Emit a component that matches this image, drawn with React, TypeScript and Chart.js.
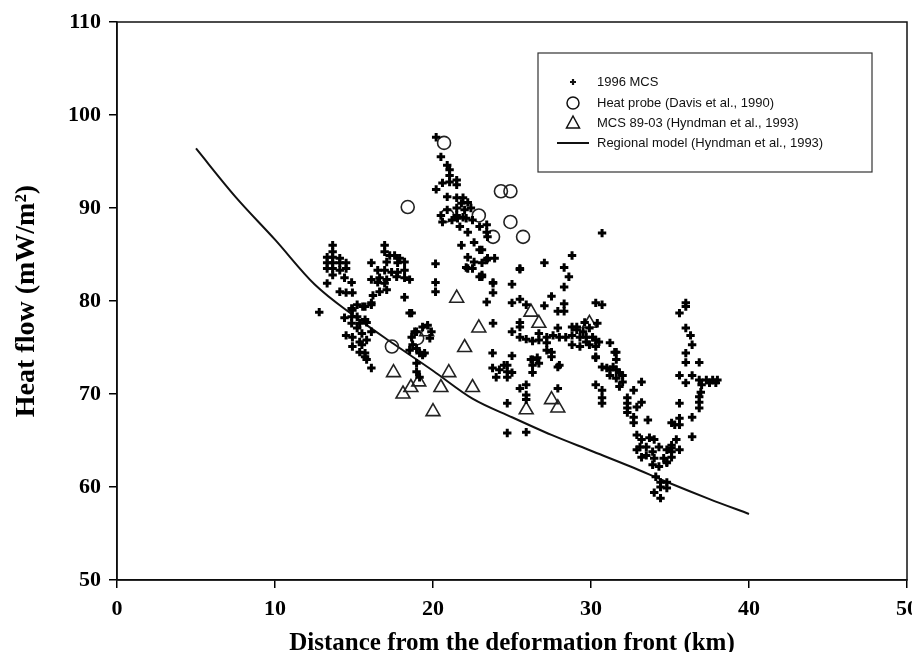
import React, { useEffect, useRef } from "react";
import { Chart, registerables } from "chart.js";

Chart.register(...registerables);

// Axis ranges and tick labels
const xTicks = [0, 10, 20, 30, 40, 50];
const yTicks = [50, 60, 70, 80, 90, 100, 110];

// 1996 MCS heat-flow estimates [distance km, heat flow mW/m2]
const mcs1996: [number, number][] = [
  [12.8, 78.8],
  [13.65, 86.0], [13.65, 85.3], [13.3, 84.7], [13.65, 84.7], [14.1, 84.6], [13.3, 84.1], [13.65, 84.1],
  [14.1, 84.1], [14.5, 84.1], [13.3, 83.5], [13.65, 83.5], [14.1, 83.3], [14.5, 83.5], [13.65, 82.8],
  [14.4, 82.5], [14.85, 82.0], [13.3, 81.9], [14.1, 81.0], [14.5, 80.9], [14.9, 80.9],
  [14.85, 79.2], [15.2, 79.6], [15.7, 79.4], [16.1, 79.6], [14.9, 79.0], [14.4, 78.2], [14.85, 78.3],
  [15.2, 78.3], [15.7, 78.0], [14.85, 77.6], [15.36, 77.6], [15.8, 77.7], [15.2, 77.1], [16.1, 76.7],
  [14.5, 76.3], [14.9, 76.1], [15.5, 76.5], [15.36, 75.6], [15.8, 75.8], [14.9, 75.1], [15.5, 75.3],
  [15.36, 74.5], [15.7, 74.0], [15.8, 73.7], [16.1, 72.8], [15.7, 74.4],
  [16.94, 86.0], [16.94, 85.3], [17.26, 84.9], [17.57, 84.9], [17.89, 84.6], [17.07, 84.2], [17.76, 84.1],
  [18.2, 84.2], [16.1, 84.1], [16.5, 83.3], [16.94, 83.3], [17.38, 83.1], [17.76, 83.1], [18.2, 83.3],
  [16.62, 82.5], [17.07, 82.3], [16.1, 82.3], [16.5, 82.0], [16.94, 81.9], [17.7, 82.6], [18.2, 82.5],
  [18.52, 82.3], [16.62, 81.0], [17.07, 81.2], [16.2, 80.6], [18.2, 80.4], [18.52, 78.7], [16.1, 79.8],
  [15.55, 79.4],
  [19.34, 77.2], [19.66, 77.4], [18.96, 76.7], [18.65, 76.1], [18.71, 75.3], [18.52, 74.7], [19.47, 74.4],
  [19.15, 74.4], [18.65, 78.7], [18.84, 76.7], [19.9, 76.7], [19.8, 76.0], [18.96, 74.9], [19.34, 74.2],
  [18.96, 73.3], [18.96, 72.4], [19.15, 71.8],
  [20.16, 84.0], [20.16, 82.0], [20.16, 81.0],
  [20.2, 97.6], [20.5, 95.5], [20.9, 94.6], [21.05, 94.1], [21.05, 93.5], [20.6, 92.7], [21.05, 92.8],
  [21.5, 93.0], [20.2, 92.0], [21.5, 92.5], [20.9, 91.2], [21.5, 91.1], [21.9, 91.1], [22.2, 90.6],
  [21.8, 90.5], [20.9, 89.8], [21.5, 90.0], [22.0, 89.8], [22.4, 90.0], [20.5, 89.2], [21.5, 89.2],
  [21.9, 89.0], [20.6, 88.5], [21.2, 88.7], [21.55, 88.9], [22.1, 88.9], [22.5, 88.7], [21.7, 88.0],
  [22.2, 87.4], [22.95, 88.0], [23.4, 88.2], [23.4, 87.4], [23.45, 86.9], [21.8, 86.0], [22.6, 86.3],
  [23.1, 85.5], [23.45, 84.6], [23.9, 84.6], [22.2, 84.7], [22.6, 84.2], [23.1, 84.1], [22.2, 83.5],
  [23.1, 82.8], [25.5, 83.5], [22.95, 85.5], [23.4, 84.4], [22.1, 83.6], [22.5, 83.5], [23.1, 82.6],
  [23.8, 81.9], [23.8, 80.9], [23.4, 79.9], [22.95, 82.6], [23.8, 82.0],
  [30.7, 87.3], [28.8, 84.9], [27.05, 84.1], [28.3, 83.6], [25.5, 83.4], [28.6, 82.6], [25.0, 81.8],
  [28.3, 81.5], [27.5, 80.5], [25.5, 80.2], [25.0, 79.8], [25.9, 79.6], [27.05, 79.5], [28.3, 79.7],
  [27.9, 78.9], [28.3, 78.9], [30.3, 79.8], [30.7, 79.6], [23.8, 77.6], [25.5, 77.7], [25.5, 77.2],
  [25.0, 76.7],
  [25.5, 76.1], [25.9, 75.9], [26.3, 75.7], [26.7, 76.5], [26.7, 75.8], [27.2, 76.1], [27.6, 76.3],
  [28.0, 76.1], [27.9, 77.1], [28.4, 76.1], [28.8, 77.2], [29.1, 76.9], [28.8, 76.3], [29.3, 76.1],
  [29.7, 76.1], [30.1, 76.1], [29.5, 76.7], [30.4, 77.6], [29.9, 77.1], [30.3, 75.8], [28.8, 75.3],
  [29.3, 75.1], [29.7, 75.6], [29.9, 75.3], [30.3, 75.1], [31.2, 75.5], [31.6, 74.5], [31.6, 73.7],
  [31.2, 72.6], [31.6, 72.6], [32.0, 72.0], [27.2, 75.5], [27.2, 74.7], [27.5, 74.5], [27.5, 74.0],
  [26.3, 73.7], [26.3, 73.1], [26.7, 73.3], [26.3, 72.3], [25.0, 74.1], [23.77, 74.4], [24.7, 73.1],
  [24.2, 72.6], [24.7, 72.4], [25.0, 72.3], [23.77, 72.8], [28.0, 73.1], [30.3, 74.0], [29.6, 77.7],
  [29.1, 77.2], [24.0, 71.8],
  [24.7, 69.0], [25.5, 70.6], [25.9, 71.0], [25.9, 69.9], [25.9, 69.4], [24.5, 73.1], [24.7, 71.8],
  [26.2, 73.7], [26.6, 73.9], [27.9, 72.9], [27.9, 70.6], [30.3, 73.9], [30.5, 75.6], [31.5, 74.5],
  [30.7, 72.9], [31.0, 72.8], [31.4, 72.9], [31.8, 72.3], [31.2, 72.0], [31.6, 71.7], [32.0, 71.3],
  [31.8, 70.8], [30.3, 71.0], [30.7, 70.4], [30.7, 69.6], [30.7, 69.0], [32.3, 69.6], [32.3, 69.0],
  [32.3, 68.5], [32.3, 68.0], [32.9, 68.6], [24.7, 65.8], [25.9, 65.9], [33.2, 69.1], [33.2, 71.3],
  [32.7, 70.4], [33.6, 67.2], [32.7, 67.5], [32.7, 66.9],
  [32.9, 65.6], [33.2, 65.1], [33.7, 65.3], [34.0, 65.1], [32.9, 64.0], [33.5, 64.3], [33.9, 63.8],
  [33.2, 63.2], [34.3, 64.3], [35.1, 64.5], [35.4, 65.1], [35.6, 64.0], [35.1, 63.8], [33.1, 64.3],
  [33.5, 63.4], [34.0, 63.1], [33.9, 62.4], [34.3, 62.2], [34.8, 62.6], [34.1, 61.1], [34.4, 60.5],
  [34.8, 60.5], [34.4, 60.0], [34.8, 59.9], [34.0, 59.4], [34.4, 58.8], [35.1, 64.2], [35.1, 63.2],
  [34.8, 64.0], [34.6, 63.1], [34.8, 62.7],
  [35.6, 72.0], [36.3, 76.3], [36.4, 75.3], [36.0, 74.4], [36.0, 73.4], [36.85, 73.4], [36.0, 71.2],
  [36.4, 72.0], [36.85, 71.5], [37.3, 71.5], [37.7, 71.5], [38.0, 71.5], [37.0, 71.0], [36.95, 70.2],
  [36.85, 69.7], [36.85, 69.1], [36.85, 68.5], [36.4, 67.5], [35.6, 69.0], [35.6, 67.4], [35.6, 66.7],
  [35.3, 66.7], [35.1, 66.9], [36.4, 65.4], [36.0, 79.8], [36.0, 79.4], [35.6, 78.7], [36.0, 77.1],
  [37.5, 71.2], [37.9, 71.2],
];

// Heat probe measurements (Davis et al., 1990)
const probeX = [20.7, 18.4, 20.9, 22.9, 23.8, 24.3, 24.9, 24.9, 25.7, 17.4, 19.0];
const probeY = [97.0, 90.1, 89.2, 89.2, 86.9, 91.8, 91.8, 88.5, 86.9, 75.1, 76.0];

// MCS 89-03 estimates (Hyndman et al., 1993)
const mcs89X = [17.5, 18.1, 18.6, 19.1, 19.6, 20.0, 20.5, 21.0, 21.5, 22.0, 22.5, 22.9, 26.2, 26.7, 29.9, 25.9, 27.5, 27.9];
const mcs89Y = [72.3, 70.0, 70.7, 71.3, 76.7, 68.1, 70.7, 72.3, 80.3, 75.0, 70.7, 77.1, 78.8, 77.6, 77.6, 68.3, 69.4, 68.5];

// Regional model curve (Hyndman et al., 1993)
const modelX = [5, 7.5, 10, 12.5, 15, 17.5, 20, 22.5, 25, 27.5, 30, 32.5, 35, 37.5, 40];
const modelY = [96.4, 91.2, 86.6, 81.8, 78.4, 75.4, 72.5, 69.5, 67.5, 65.6, 63.9, 62.2, 60.4, 58.7, 57.1];

const legendLabels = [
  "1996 MCS",
  "Heat probe (Davis et al., 1990)",
  "MCS 89-03 (Hyndman et al., 1993)",
  "Regional model (Hyndman et al., 1993)",
];

const serif = '"Liberation Serif", "Times New Roman", serif';
const sans = '"Liberation Sans", Arial, sans-serif';

// Frame around the plot area plus the boxed legend
const framePlugin = {
  id: "frameAndLegend",
  afterDraw(chart: any) {
    const { ctx, chartArea } = chart;
    ctx.save();
    ctx.strokeStyle = "#111";
    ctx.lineWidth = 1.5;
    ctx.strokeRect(chartArea.left, chartArea.top, chartArea.right - chartArea.left, chartArea.bottom - chartArea.top);

    const bx = chartArea.left + 421;
    const by = chartArea.top + 31;
    const bw = 334;
    const bh = 119;
    ctx.fillStyle = "#fff";
    ctx.fillRect(bx, by, bw, bh);
    ctx.lineWidth = 1.2;
    ctx.strokeStyle = "#333";
    ctx.strokeRect(bx, by, bw, bh);

    const sx = bx + 35;
    const tx = bx + 59;
    const rows = [by + 29, by + 50, by + 70, by + 90];
    ctx.font = `13px ${sans}`;
    ctx.fillStyle = "#111";
    ctx.textBaseline = "middle";
    ctx.textAlign = "left";
    legendLabels.forEach((t, i) => ctx.fillText(t, tx, rows[i]));

    ctx.strokeStyle = "#111";
    // cross
    ctx.lineWidth = 2.2;
    ctx.beginPath();
    ctx.moveTo(sx - 3, rows[0]);
    ctx.lineTo(sx + 3, rows[0]);
    ctx.moveTo(sx, rows[0] - 3);
    ctx.lineTo(sx, rows[0] + 3);
    ctx.stroke();
    // circle
    ctx.lineWidth = 1.5;
    ctx.beginPath();
    ctx.arc(sx, rows[1], 6, 0, Math.PI * 2);
    ctx.stroke();
    // triangle
    ctx.beginPath();
    ctx.moveTo(sx, rows[2] - 7);
    ctx.lineTo(sx + 6.5, rows[2] + 5);
    ctx.lineTo(sx - 6.5, rows[2] + 5);
    ctx.closePath();
    ctx.stroke();
    // line
    ctx.lineWidth = 2;
    ctx.beginPath();
    ctx.moveTo(sx - 16, rows[3]);
    ctx.lineTo(sx + 16, rows[3]);
    ctx.stroke();
    ctx.restore();
  },
};

export default function App() {
  const ref = useRef<HTMLCanvasElement | null>(null);

  useEffect(() => {
    if (!ref.current) return;
    const chart = new Chart(ref.current, {
      type: "scatter",
      data: {
        datasets: [
          {
            label: legendLabels[0],
            data: mcs1996.map(([x, y]) => ({ x, y })),
            pointStyle: "cross",
            pointRadius: 4.2,
            borderWidth: 3,
            borderColor: "#000",
            backgroundColor: "#000",
          },
          {
            label: legendLabels[1],
            data: probeX.map((x, i) => ({ x, y: probeY[i] })),
            pointStyle: "circle",
            pointRadius: 6.5,
            borderWidth: 1.6,
            borderColor: "#222",
            backgroundColor: "rgba(0,0,0,0)",
          },
          {
            label: legendLabels[2],
            data: mcs89X.map((x, i) => ({ x, y: mcs89Y[i] })),
            pointStyle: "triangle",
            pointRadius: 8,
            borderWidth: 1.6,
            borderColor: "#222",
            backgroundColor: "rgba(0,0,0,0)",
          },
          {
            label: legendLabels[3],
            data: modelX.map((x, i) => ({ x, y: modelY[i] })),
            showLine: true,
            pointRadius: 0,
            borderWidth: 2,
            borderColor: "#111",
            cubicInterpolationMode: "monotone",
          },
        ],
      },
      options: {
        animation: false,
        responsive: false,
        maintainAspectRatio: false,
        layout: { padding: { top: 14, right: 13, left: 0, bottom: 0 } },
        plugins: { legend: { display: false }, tooltip: { enabled: false } },
        scales: {
          x: {
            type: "linear",
            min: 0,
            max: 50,
            afterBuildTicks: (s: any) => {
              s.ticks = xTicks.map((v) => ({ value: v }));
            },
            afterFit: (s: any) => {
              s.height = 72;
              s.paddingLeft = 0;
              s.paddingRight = 0;
            },
            ticks: { font: { family: serif, size: 22, weight: "bold" }, color: "#000", padding: 8 },
            grid: { drawOnChartArea: false, drawTicks: true, tickLength: 8, color: "#000", lineWidth: 1.5 },
            border: { display: true, color: "#000", width: 1.5 },
            title: {
              display: true,
              text: "Distance from the deformation front (km)",
              font: { family: serif, size: 25, weight: "bold", lineHeight: 0.7 },
              color: "#000",
              padding: { top: 0, bottom: 0 },
            },
          },
          y: {
            type: "linear",
            min: 50,
            max: 110,
            afterBuildTicks: (s: any) => {
              s.ticks = yTicks.map((v) => ({ value: v }));
            },
            afterFit: (s: any) => {
              s.width = 109;
              s.paddingTop = 0;
              s.paddingBottom = 0;
            },
            ticks: { font: { family: serif, size: 22, weight: "bold" }, color: "#000", padding: 8 },
            grid: { drawOnChartArea: false, drawTicks: true, tickLength: 8, color: "#000", lineWidth: 1.5 },
            border: { display: true, color: "#000", width: 1.5 },
            title: {
              display: true,
              text: "Heat flow (mW/m²)",
              font: { family: serif, size: 28, weight: "bold", lineHeight: 1 },
              color: "#000",
              padding: { top: 5, bottom: 0 },
            },
          },
        },
      },
      plugins: [framePlugin],
    });
    return () => chart.destroy();
  }, []);

  return (
    <div style={{ width: 912, height: 644, background: "#fff" }}>
      <canvas ref={ref} width={912} height={644} style={{ display: "block" }} />
    </div>
  );
}
